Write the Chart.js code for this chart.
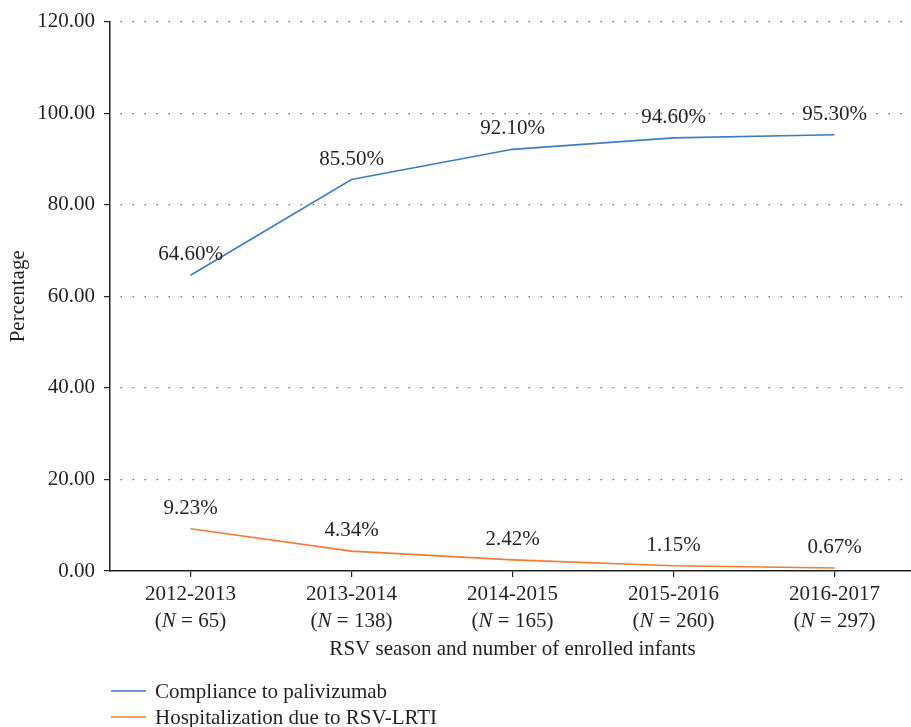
<!DOCTYPE html>
<html>
<head>
<meta charset="utf-8">
<script src="https://cdn.jsdelivr.net/npm/chart.js@4/dist/chart.umd.min.js"></script>
<style>
  html, body { margin: 0; padding: 0; background: #ffffff; overflow: hidden; }
  #wrap { width: 911px; height: 727px; overflow: hidden; }
</style>
</head>
<body>
<div id="wrap"><canvas id="c" width="915" height="727"></canvas></div>
<script>
// ---- data ----
const seasons = ['2012-2013', '2013-2014', '2014-2015', '2015-2016', '2016-2017'];
const enrolled = [65, 138, 165, 260, 297];
const compliance = [64.60, 85.50, 92.10, 94.60, 95.30];
const hospitalization = [9.23, 4.34, 2.42, 1.15, 0.67];
const seriesNames = ['Compliance to palivizumab', 'Hospitalization due to RSV-LRTI'];
const yTicks = [0, 20, 40, 60, 80, 100, 120];
const xTitle = 'RSV season and number of enrolled infants';
const yTitle = 'Percentage';

const FONT = '"Liberation Serif", "Times New Roman", serif';
const TXT = '#231f20';
const FS = 21;

const customDraw = {
  id: 'customDraw',
  afterDatasetsDraw(chart) {
    const ctx = chart.ctx;
    ctx.save();
    ctx.fillStyle = TXT;
    ctx.textAlign = 'center';
    ctx.textBaseline = 'alphabetic';
    ctx.font = FS + 'px ' + FONT;
    // data labels
    chart.data.datasets.forEach((ds, di) => {
      const meta = chart.getDatasetMeta(di);
      meta.data.forEach((pt, i) => {
        ctx.fillText(ds.data[i].toFixed(2) + '%', pt.x, pt.y - 15);
      });
    });
    ctx.restore();
  },
  afterDraw(chart) {
    const ctx = chart.ctx;
    const xs = chart.scales.x;
    const area = chart.chartArea;
    ctx.save();
    ctx.fillStyle = TXT;
    ctx.textBaseline = 'alphabetic';
    // x tick labels (two lines, italic N)
    seasons.forEach((s, i) => {
      const x = xs.getPixelForValue(i);
      ctx.font = FS + 'px ' + FONT;
      ctx.textAlign = 'center';
      ctx.fillText(s, x, area.bottom + 29);
      const pre = '(';
      const nTxt = 'N';
      const post = ' = ' + enrolled[i] + ')';
      ctx.font = FS + 'px ' + FONT;
      const wPre = ctx.measureText(pre).width;
      const wPost = ctx.measureText(post).width;
      ctx.font = 'italic ' + FS + 'px ' + FONT;
      const wN = ctx.measureText(nTxt).width;
      let cx = x - (wPre + wN + wPost) / 2;
      ctx.textAlign = 'left';
      ctx.font = FS + 'px ' + FONT;
      ctx.fillText(pre, cx, area.bottom + 56);
      cx += wPre;
      ctx.font = 'italic ' + FS + 'px ' + FONT;
      ctx.fillText(nTxt, cx, area.bottom + 56);
      cx += wN;
      ctx.font = FS + 'px ' + FONT;
      ctx.fillText(post, cx, area.bottom + 56);
    });
    // x axis title
    ctx.font = FS + 'px ' + FONT;
    ctx.textAlign = 'center';
    ctx.fillText(xTitle, (area.left + area.right) / 2, area.bottom + 84);
    // legend (vertical list, bottom-left)
    chart.data.datasets.forEach((ds, di) => {
      const y = area.bottom + 120 + di * 26;
      ctx.strokeStyle = ds.borderColor;
      ctx.lineWidth = 1.5;
      ctx.beginPath();
      ctx.moveTo(111, y);
      ctx.lineTo(146, y);
      ctx.stroke();
      ctx.textAlign = 'left';
      ctx.fillText(ds.label, 155, y + 7);
    });
    ctx.restore();
  }
};

new Chart(document.getElementById('c'), {
  type: 'line',
  data: {
    labels: seasons,
    datasets: [
      {
        label: seriesNames[0],
        data: compliance,
        borderColor: '#3a7dc5',
        backgroundColor: '#3a7dc5',
        borderWidth: 1.6,
        pointRadius: 0,
        tension: 0
      },
      {
        label: seriesNames[1],
        data: hospitalization,
        borderColor: '#f47b35',
        backgroundColor: '#f47b35',
        borderWidth: 1.6,
        pointRadius: 0,
        tension: 0
      }
    ]
  },
  options: {
    responsive: false,
    animation: false,
    devicePixelRatio: 1,
    layout: { padding: { top: 17, right: 0, bottom: 0, left: 0 } },
    plugins: {
      legend: { display: false },
      tooltip: { enabled: false }
    },
    scales: {
      x: {
        type: 'category',
        offset: true,
        afterFit(s) { s.height = 156; },
        ticks: { display: false },
        grid: {
          display: true,
          drawOnChartArea: false,
          drawTicks: true,
          tickLength: 6,
          offset: false,
          color: TXT,
          tickColor: TXT,
          lineWidth: 1.2
        },
        border: { display: true, color: TXT, width: 1.5 }
      },
      y: {
        min: 0,
        max: 120,
        afterFit(s) { s.width = 110; },
        afterBuildTicks(s) { s.ticks = yTicks.map(v => ({ value: v })); },
        ticks: {
          color: TXT,
          font: { family: FONT, size: FS },
          padding: 9,
          callback: v => Number(v).toFixed(2)
        },
        title: {
          display: true,
          text: yTitle,
          color: TXT,
          font: { family: FONT, size: FS },
          padding: { top: 6, bottom: 0 }
        },
        grid: {
          display: true,
          drawTicks: true,
          tickLength: 6,
          color: ctx => ctx.tick && ctx.tick.value === 0 ? 'rgba(0,0,0,0)' : '#6d6d6d',
          tickColor: TXT,
          lineWidth: 1.2,
          tickWidth: 1.2
        },
        border: { display: true, color: TXT, width: 1.5, dash: [1.5, 10.5], dashOffset: -10 }
      }
    }
  },
  plugins: [customDraw]
});
</script>
</body>
</html>
